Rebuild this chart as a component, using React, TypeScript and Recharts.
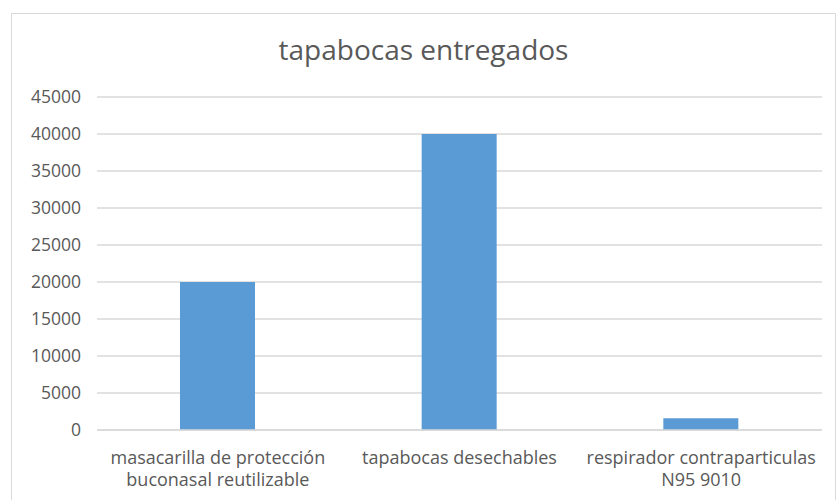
import { BarChart, Bar, XAxis, YAxis, CartesianGrid } from 'recharts'

const categories = [
  'masacarilla de protección\nbuconasal reutilizable',
  'tapabocas desechables',
  'respirador contraparticulas\nN95 9010',
]
const delivered = [20000, 40000, 1600]
const yTicks = [0, 5000, 10000, 15000, 20000, 25000, 30000, 35000, 40000, 45000]

const data = categories.map((name, i) => ({ name, value: delivered[i] }))

const FONT = '"Open Sans", "Noto Sans", sans-serif'
const TEXT = '#595959'

const CategoryTick = ({ x, y, payload }: any) => {
  const lines = String(payload.value).split('\n')
  return (
    <text x={x} y={y} textAnchor="middle" fill={TEXT} fontSize={18} fontFamily={FONT}>
      {lines.map((line, i) => (
        <tspan key={i} x={x} dy={i === 0 ? 26 : 22}>
          {line}
        </tspan>
      ))}
    </text>
  )
}

export default function App() {
  return (
    <div style={{ position: 'absolute', left: 0, top: 0, width: 838, height: 500, background: '#fff' }}>
      <div
        style={{
          position: 'absolute',
          left: 11,
          top: 13,
          width: 825,
          height: 500,
          border: '1px solid #d9d9d9',
          boxSizing: 'border-box',
        }}
      />
      <div
        style={{
          position: 'absolute',
          left: 11,
          width: 825,
          top: 30,
          textAlign: 'center',
          fontFamily: FONT,
          fontSize: 28,
          lineHeight: '38px',
          color: TEXT,
        }}
      >
        tapabocas entregados
      </div>
      <div style={{ position: 'absolute', left: 0, top: 0 }}>
        <BarChart
          width={838}
          height={500}
          data={data}
          margin={{ top: 97, right: 16, left: 0, bottom: 40 }}
          barCategoryGap={0}
        >
          <CartesianGrid vertical={false} stroke="#d9d9d9" strokeWidth={1.5} />
          <XAxis
            dataKey="name"
            height={30}
            tickLine={false}
            axisLine={{ stroke: '#d9d9d9', strokeWidth: 1.5 }}
            tick={<CategoryTick />}
            interval={0}
          />
          <YAxis
            width={97}
            domain={[0, 45000]}
            ticks={yTicks}
            axisLine={false}
            tickLine={false}
            tickMargin={10}
            tick={{ fill: TEXT, fontSize: 17.5, fontFamily: FONT }}
          />
          <Bar dataKey="value" fill="#5b9bd5" barSize={75} isAnimationActive={false} />
        </BarChart>
      </div>
    </div>
  )
}
